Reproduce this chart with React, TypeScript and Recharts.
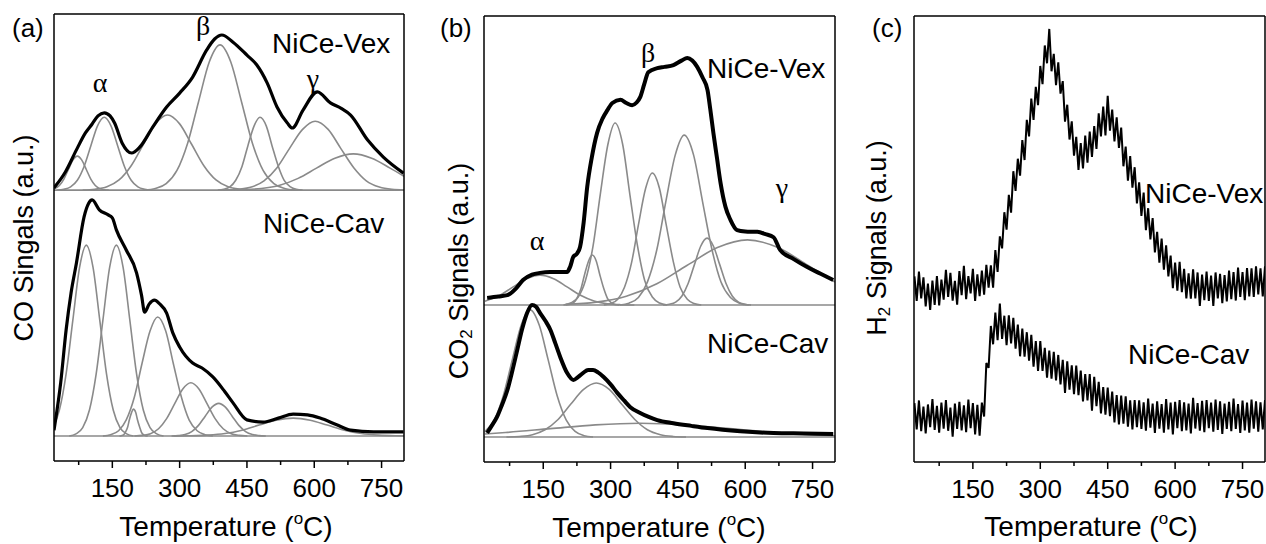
import React from 'react';
import { LineChart, Line, XAxis, YAxis, ReferenceLine } from 'recharts';

const FONT = '"Liberation Sans", Arial, Helvetica, sans-serif';
const GREEK = '"Liberation Serif", "DejaVu Serif", "Times New Roman", serif';
const GRAY = '#8a8a8a';

// x ticks shared by the three panels (minor ticks at the odd multiples of 75)
const tempTicks = [75, 150, 225, 300, 375, 450, 525, 600, 675, 750];

// vertical offsets of the stacked traces (a.u., plot height = 100)
const offA = { vex: 60.6, cav: 5.6 };
const offB = { vex: 35.2, cav: 5.6 };
const offC = { vex: 38, cav: 10 };

// ---- (a) CO signals: [temperature, signal above trace baseline] ----
const vexA1 = [[20, 0.3], [32, 1.03], [42, 2.47], [52, 4.61], [62, 6.7], [72, 7.6], [82, 6.7], [92, 4.61], [102, 2.47], [112, 1.03], [122, 0.33], [132, 0.08], [142, 0]];
const vexA2 = [[27, 0], [42, 0.18], [57, 0.72], [72, 2.2], [87, 5.3], [102, 9.89], [117, 14.38], [132, 16.3], [147, 14.38], [162, 9.89], [177, 5.3], [192, 2.2], [207, 0.72], [222, 0.18], [237, 0]];
const vexA3 = [[84, 0], [111, 0.18], [138, 0.74], [165, 2.27], [192, 5.46], [219, 10.2], [246, 14.82], [273, 16.8], [300, 14.82], [327, 10.2], [354, 5.46], [381, 2.27], [408, 0.74], [435, 0.18], [462, 0]];
const vexA4 = [[222, 0], [246, 0.36], [270, 1.43], [294, 4.39], [318, 10.56], [342, 19.73], [366, 28.67], [390, 32.5], [414, 28.67], [438, 19.73], [462, 10.56], [486, 4.39], [510, 1.43], [534, 0.36], [558, 0]];
const vexA5 = [[385, 0], [398, 0.18], [412, 0.72], [425, 2.2], [439, 5.3], [452, 9.89], [466, 14.38], [479, 16.3], [493, 14.38], [506, 9.89], [520, 5.3], [533, 2.2], [547, 0.72], [560, 0.18], [574, 0]];
const vexA6 = [[402, 0], [431, 0.17], [460, 0.68], [488, 2.08], [517, 5.01], [545, 9.35], [574, 13.58], [602, 15.4], [631, 13.58], [659, 9.35], [688, 5.01], [716, 2.08], [745, 0.68], [773, 0.17], [800, 0.03]];
const vexA7 = [[400, 0], [441, 0.09], [482, 0.36], [523, 1.09], [564, 2.63], [605, 4.92], [646, 7.14], [687, 8.1], [728, 7.14], [769, 4.92], [800, 3.1]];
const vexAEnv = [[20, 0.5], [45, 4.0], [70, 9.0], [90, 12.8], [105, 14.8], [118, 16.6], [132, 17.3], [145, 16.6], [155, 15.0], [172, 10.5], [193, 8.3], [211, 9.6], [240, 14.1], [271, 18.6], [300, 21.7], [329, 25.3], [360, 31.3], [378, 33.8], [394, 34.7], [419, 33.1], [450, 30.2], [472, 28.0], [495, 24.0], [517, 18.6], [540, 15.0], [551, 13.9], [575, 17.9], [607, 22.0], [636, 19.5], [660, 18.3], [681, 16.8], [719, 11.2], [754, 7.4], [799, 3.8]];

const cavA1 = [[20, 2.4], [32, 5.8], [47, 13.9], [62, 25.9], [77, 37.7], [92, 42.7], [107, 37.7], [122, 25.9], [137, 13.9], [152, 5.8], [167, 1.88], [182, 0.47], [197, 0]];
const cavA2 = [[54, 0], [69, 0.47], [84, 1.88], [99, 5.8], [114, 13.9], [129, 25.9], [144, 37.7], [159, 42.7], [174, 37.7], [189, 25.9], [204, 13.9], [219, 5.8], [234, 1.88], [249, 0.47], [264, 0]];
const cavA3 = [[166, 0], [170, 0.07], [175, 0.26], [179, 0.81], [184, 1.95], [188, 3.64], [193, 5.29], [197, 6.0], [202, 5.29], [206, 3.64], [211, 1.95], [215, 0.81], [220, 0.26], [224, 0.07], [229, 0]];
const cavA4 = [[129, 0], [146, 0.29], [164, 1.17], [181, 3.59], [199, 8.65], [216, 16.15], [234, 23.46], [251, 26.6], [269, 23.46], [286, 16.15], [304, 8.65], [321, 3.59], [339, 1.17], [356, 0.29], [374, 0]];
const cavA5 = [[199, 0], [217, 0.13], [235, 0.52], [253, 1.61], [271, 3.87], [289, 7.22], [307, 10.5], [325, 11.9], [343, 10.5], [361, 7.22], [379, 3.87], [397, 1.61], [415, 0.52], [433, 0.13], [451, 0]];
const cavA6 = [[282, 0], [297, 0.08], [312, 0.32], [327, 0.99], [342, 2.37], [357, 4.43], [372, 6.44], [387, 7.3], [402, 6.44], [417, 4.43], [432, 2.37], [447, 0.99], [462, 0.32], [477, 0.08], [492, 0]];
const cavA7 = [[287, 0], [325, 0.04], [363, 0.18], [401, 0.54], [439, 1.3], [477, 2.43], [515, 3.53], [553, 4.0], [591, 3.53], [629, 2.43], [667, 1.3], [705, 0.54], [743, 0.18], [781, 0.04], [800, 0.02]];
const cavAEnv = [[20, 1.3], [35, 12.0], [47, 23.7], [58, 32.0], [70, 38.7], [87, 49.0], [97, 52.0], [105, 52.8], [121, 50.6], [140, 49.5], [150, 48.8], [159, 46.1], [181, 41.6], [204, 36.5], [215, 31.5], [222, 27.7], [232, 29.5], [244, 30.4], [255, 29.6], [271, 27.5], [285, 23.0], [300, 19.9], [329, 16.3], [350, 15.2], [374, 13.2], [400, 10.0], [419, 7.4], [450, 3.6], [486, 3.1], [520, 4.0], [553, 4.9], [585, 4.7], [613, 4.0], [650, 2.5], [681, 1.3], [732, 0.9], [799, 0.9]];

// ---- (b) CO2 signals ----
const vexB1 = [[20, 0.85], [53, 2.18], [83, 4.07], [113, 5.91], [143, 6.7], [173, 5.91], [203, 4.07], [233, 2.18], [263, 0.9], [293, 0.29], [323, 0.07], [353, 0]];
const vexB2 = [[200, 0], [208, 0.12], [217, 0.49], [225, 1.51], [234, 3.64], [242, 6.8], [251, 9.88], [259, 11.2], [268, 9.88], [276, 6.8], [285, 3.64], [293, 1.51], [302, 0.49], [310, 0.12], [319, 0]];
const vexB3 = [[195, 0], [211, 0.45], [228, 1.8], [244, 5.51], [261, 13.26], [277, 24.77], [294, 35.99], [310, 40.8], [327, 35.99], [343, 24.77], [360, 13.26], [376, 5.51], [393, 1.8], [409, 0.45], [426, 0]];
const vexB4 = [[285, 0], [300, 0.33], [316, 1.3], [331, 4.0], [347, 9.62], [362, 17.97], [378, 26.11], [393, 29.6], [409, 26.11], [424, 17.97], [440, 9.62], [455, 4.0], [471, 1.3], [486, 0.33], [502, 0]];
const vexB5 = [[321, 0], [341, 0.42], [362, 1.68], [382, 5.14], [403, 12.38], [423, 23.13], [444, 33.6], [464, 38.1], [485, 33.6], [505, 23.13], [526, 12.38], [546, 5.14], [567, 1.68], [587, 0.42], [608, 0]];
const vexB6 = [[417, 0], [431, 0.17], [445, 0.66], [459, 2.03], [473, 4.88], [487, 9.11], [501, 13.23], [515, 15.0], [529, 13.23], [543, 9.11], [557, 4.88], [571, 2.03], [585, 0.66], [599, 0.17], [613, 0]];
const vexB7 = [[200, 0.16], [268, 0.64], [335, 1.97], [403, 4.75], [470, 8.86], [538, 12.88], [605, 14.6], [673, 12.88], [740, 8.86], [800, 5.15]];
const vexBEnv = [[25, 1.6], [50, 1.9], [70, 2.2], [90, 3.8], [105, 5.6], [125, 6.8], [143, 7.2], [165, 7.4], [181, 7.4], [203, 7.4], [210, 8.6], [217, 10.8], [225, 11.5], [232, 13.0], [240, 18.5], [248, 26.5], [258, 33.0], [270, 38.6], [282, 41.8], [293, 43.7], [304, 45.3], [322, 46.0], [335, 45.3], [348, 44.8], [358, 45.4], [366, 46.6], [375, 49.5], [384, 52.2], [404, 53.1], [420, 53.4], [440, 53.8], [458, 54.8], [471, 55.4], [482, 54.8], [493, 53.4], [505, 51.0], [516, 48.2], [522, 44.0], [529, 38.6], [537, 33.0], [545, 27.4], [556, 22.0], [567, 19.1], [582, 16.8], [600, 16.5], [627, 16.4], [645, 15.9], [663, 15.2], [678, 12.3], [708, 10.3], [738, 8.5], [768, 7.0], [796, 5.6]];

const cavB1 = [[20, 1.2], [41, 3.85], [61, 9.26], [81, 17.3], [101, 25.1], [121, 28.5], [141, 25.1], [161, 17.3], [181, 9.26], [201, 3.85], [221, 1.25], [241, 0.31], [261, 0]];
const cavB2 = [[68, 0], [97, 0.13], [126, 0.53], [154, 1.63], [183, 3.93], [211, 7.34], [240, 10.67], [268, 12.1], [297, 10.67], [325, 7.34], [354, 3.93], [382, 1.63], [411, 0.53], [439, 0.13], [468, 0]];
const cavB3 = [[20, 0.69], [66, 1.01], [166, 1.88], [266, 2.73], [366, 3.1], [466, 2.73], [566, 1.88], [666, 1.01], [766, 0.42], [800, 0.29]];
const cavBEnv = [[25, 0.9], [35, 2.5], [47, 4.5], [58, 7.2], [70, 10.5], [81, 14.8], [92, 19.5], [103, 24.2], [114, 27.8], [125, 29.6], [134, 29.2], [143, 27.8], [155, 26.0], [166, 24.0], [177, 21.0], [188, 17.9], [203, 14.4], [217, 12.8], [228, 13.5], [239, 14.4], [250, 15.0], [261, 15.0], [272, 14.5], [284, 13.5], [300, 11.8], [315, 9.9], [330, 8.2], [344, 6.7], [366, 5.4], [385, 4.5], [404, 3.8], [440, 3.1], [480, 2.5], [516, 2.0], [589, 1.3], [663, 0.9], [730, 0.8], [796, 0.7]];

// ---- (c) H2 signals, raw traces sampled every 5 °C from 20 °C ----
const vexH2 = [
  3.6, -1.9, 4.7, -1.3, 3.4, -3.1, 2.0, -3.9, 2.7, -2.8,
  3.7, -2.9, 2.9, -1.6, 5.1, -1.0, 4.4, -1.8, 2.6, -2.7,
  4.8, -0.6, 6.0, -1.5, 3.7, -0.2, 5.3, -1.9, 4.1, -0.8,
  4.9, -0.5, 6.2, 1.1, 6.1, 1.1, 9.5, 4.6, 12.6, 9.9,
  18.0, 14.1, 21.9, 17.9, 27.2, 22.8, 30.0, 26.2, 34.2, 29.7,
  38.7, 35.0, 43.5, 38.7, 46.1, 42.0, 50.8, 46.7, 55.4, 51.4,
  59.1, 49.6, 53.5, 46.5, 51.6, 44.6, 47.4, 38.3, 42.1, 34.3,
  38.4, 30.7, 34.9, 27.5, 33.5, 27.8, 35.2, 29.1, 36.1, 30.4,
  37.3, 32.2, 40.2, 35.0, 41.7, 35.2, 44.1, 36.3, 41.0, 33.9,
  39.3, 32.4, 37.0, 28.3, 32.7, 25.1, 30.6, 23.5, 28.1, 20.0,
  24.7, 17.2, 22.4, 14.0, 18.9, 11.9, 16.7, 9.0, 13.6, 6.7,
  12.1, 5.1, 10.6, 3.6, 8.3, 1.0, 6.7, 0.4, 6.9, 0.1,
  5.3, -1.3, 4.3, -1.4, 5.2, -1.3, 4.5, -3.0, 4.0, -1.7,
  4.7, -1.9, 3.8, -3.0, 4.5, -1.3, 4.2, -2.4, 3.9, -2.0,
  4.9, -1.5, 4.6, -1.8, 5.6, -1.0, 4.6, -1.7, 5.5, -0.9,
  5.4, -1.0, 5.9, -0.4, 5.4, -0.9, 5.9,
];
const cavH2 = [
  3.2, -2.7, 3.8, -3.1, 2.4, -3.6, 2.9, -2.2, 4.1, -2.8,
  2.6, -3.4, 3.3, -2.5, 3.9, -3.0, 2.2, -4.3, 3.1, -2.6,
  3.5, -2.9, 2.7, -3.3, 4.0, -2.4, 3.2, -3.8, 2.8, -4.1,
  3.3, 0.2, 12.2, 11.1, 20.5, 16.4, 23.5, 17.3, 25.5, 17.6,
  22.8, 16.2, 22.9, 16.6, 22.3, 15.4, 20.8, 13.7, 19.9, 13.6,
  19.1, 12.7, 18.5, 11.4, 17.1, 10.4, 17.1, 10.4, 15.6, 8.9,
  15.0, 8.7, 14.7, 8.3, 14.0, 7.4, 12.9, 5.5, 12.6, 6.2,
  11.7, 5.2, 11.6, 5.0, 10.5, 3.6, 9.7, 3.8, 9.7, 1.5,
  9.1, 2.5, 8.0, 0.9, 6.8, 0.6, 6.7, 0.3, 5.8, -1.1,
  5.0, -1.6, 4.9, -1.4, 4.7, -2.1, 3.8, -2.7, 3.9, -2.2,
  3.8, -2.6, 3.4, -3.0, 4.2, -2.3, 3.1, -3.5, 3.6, -2.5,
  3.0, -3.4, 4.1, -2.7, 3.3, -3.8, 3.5, -2.4, 3.9, -3.1,
  3.4, -2.9, 3.1, -3.6, 4.4, -2.5, 3.2, -3.0, 3.7, -3.3,
  3.9, -2.4, 3.3, -3.2, 4.0, -2.8, 3.6, -3.7, 3.1, -2.6,
  3.5, -3.1, 4.2, -2.6, 3.0, -3.5, 3.8, -2.9, 3.3, -3.4,
  4.0, -2.5, 3.6, -3.2, 3.4, -2.7, 3.9,
];

const shift = (pts: number[][], off: number) => pts.map(([t, v]) => ({ t, v: v + off }));
const rawTrace = (vals: number[], off: number) => vals.map((v, i) => ({ t: 20 + i * 5, v: v + off }));

type Trace = { data: { t: number; v: number }[]; kind: 'fit' | 'sum' | 'noisy' | 'raw' };

const fit = (pts: number[][], off: number): Trace => ({ data: shift(pts, off), kind: 'fit' });

const tracesA: Trace[] = [
  ...[vexA1, vexA2, vexA3, vexA4, vexA5, vexA6, vexA7].map((p) => fit(p, offA.vex)),
  ...[cavA1, cavA2, cavA3, cavA4, cavA5, cavA6, cavA7].map((p) => fit(p, offA.cav)),
  { data: shift(vexAEnv, offA.vex), kind: 'sum' },
  { data: shift(cavAEnv, offA.cav), kind: 'sum' },
];
const tracesB: Trace[] = [
  ...[vexB1, vexB2, vexB3, vexB4, vexB5, vexB6, vexB7].map((p) => fit(p, offB.vex)),
  ...[cavB1, cavB2, cavB3].map((p) => fit(p, offB.cav)),
  { data: shift(vexBEnv, offB.vex), kind: 'noisy' },
  { data: shift(cavBEnv, offB.cav), kind: 'noisy' },
];
const tracesC: Trace[] = [
  { data: rawTrace(vexH2, offC.vex), kind: 'raw' },
  { data: rawTrace(cavH2, offC.cav), kind: 'raw' },
];

const TempTick = (props: any) => {
  const { x, y, payload } = props;
  const major = payload.value % 150 === 0;
  return (
    <g>
      <line x1={x} y1={y} x2={x} y2={y + (major ? 7 : 4)} stroke="#000" strokeWidth={1.5} />
      {major && (
        <text x={x} y={y + 36} textAnchor="middle" fontSize={26} fontFamily={FONT} fill="#000">
          {payload.value}
        </text>
      )}
    </g>
  );
};

const frame = { stroke: '#000', strokeWidth: 1.5 };

const lineStyle = (kind: Trace['kind']) => {
  if (kind === 'fit') return { stroke: GRAY, strokeWidth: 1.6, type: 'monotone' as const };
  if (kind === 'sum') return { stroke: '#000', strokeWidth: 3.2, type: 'monotone' as const };
  if (kind === 'noisy') return { stroke: '#000', strokeWidth: 4, type: 'monotone' as const };
  return { stroke: '#000', strokeWidth: 2, type: 'linear' as const };
};

interface PanelProps {
  left: number;
  top: number;
  w: number;
  h: number;
  xMin: number;
  traces: Trace[];
  baselines: number[];
}

// plot area starts at (left, top); axes of width/height 1 draw the frame
const Panel: React.FC<PanelProps> = ({ left, top, w, h, xMin, traces, baselines }) => (
  <div style={{ position: 'absolute', left: left - 4, top: top - 4 }}>
    <LineChart width={w + 8} height={h + 4 + 82} margin={{ top: 3, right: 3, bottom: 0, left: 3 }}>
      <XAxis
        dataKey="t"
        type="number"
        domain={[xMin, 800]}
        allowDataOverflow
        ticks={tempTicks}
        interval={0}
        tick={<TempTick />}
        tickLine={false}
        tickSize={0}
        tickMargin={0}
        height={82}
        axisLine={frame}
      />
      <XAxis xAxisId="top" orientation="top" type="number" domain={[xMin, 800]} tick={false} tickLine={false} height={1} axisLine={frame} />
      <YAxis type="number" domain={[0, 100]} allowDataOverflow tick={false} tickLine={false} width={1} axisLine={frame} />
      <YAxis yAxisId="r" orientation="right" type="number" domain={[0, 100]} tick={false} tickLine={false} width={1} axisLine={frame} />
      {baselines.map((b) => (
        <ReferenceLine key={b} y={b} stroke={GRAY} strokeWidth={1.6} />
      ))}
      {traces.map((tr, i) => {
        const s = lineStyle(tr.kind);
        return (
          <Line
            key={i}
            data={tr.data}
            dataKey="v"
            type={s.type}
            stroke={s.stroke}
            strokeWidth={s.strokeWidth}
            dot={false}
            activeDot={false}
            isAnimationActive={false}
          />
        );
      })}
    </LineChart>
  </div>
);

const tempLabel = (cx: number, y: number) => (
  <text x={cx} y={y} textAnchor="middle" fontSize={28}>
    Temperature (<tspan fontSize={17} dy={-12}>o</tspan>
    <tspan dy={12}>C)</tspan>
  </text>
);

export default function App() {
  return (
    <div style={{ position: 'absolute', left: 0, top: 0, width: 1266, height: 544, background: '#fff', overflow: 'hidden' }}>
      <Panel left={54} top={14} w={350} h={447} xMin={20} traces={tracesA} baselines={[offA.vex, offA.cav]} />
      <Panel left={484} top={16} w={351} h={446} xMin={18} traces={tracesB} baselines={[offB.vex, offB.cav]} />
      <Panel left={914} top={16} w={351} h={446} xMin={19} traces={tracesC} baselines={[]} />
      <svg width={1266} height={544} style={{ position: 'absolute', left: 0, top: 0, pointerEvents: 'none' }} fontFamily={FONT} fill="#000">
        <text x={12} y={37} fontSize={26}>(a)</text>
        <text x={440} y={37} fontSize={26}>(b)</text>
        <text x={872} y={37} fontSize={26}>(c)</text>

        <text transform="translate(24,238) rotate(-90)" textAnchor="middle" dominantBaseline="central" fontSize={27}>
          CO Singals (a.u.)
        </text>
        <text transform="translate(459,271) rotate(-90)" textAnchor="middle" dominantBaseline="central" fontSize={27}>
          CO<tspan fontSize={17} dy={7}>2</tspan>
          <tspan dy={-7}> Signals (a.u.)</tspan>
        </text>
        <text transform="translate(877,238) rotate(-90)" textAnchor="middle" dominantBaseline="central" fontSize={27}>
          H<tspan fontSize={17} dy={7}>2</tspan>
          <tspan dy={-7}> Signals (a.u.)</tspan>
        </text>

        {tempLabel(226, 536)}
        {tempLabel(659, 537)}
        {tempLabel(1091, 536)}

        <text x={272} y={53} fontSize={28}>NiCe-Vex</text>
        <text x={263} y={233} fontSize={28}>NiCe-Cav</text>
        <text x={707} y={78} fontSize={28}>NiCe-Vex</text>
        <text x={707} y={353} fontSize={28}>NiCe-Cav</text>
        <text x={1145} y={203} fontSize={28}>NiCe-Vex</text>
        <text x={1128} y={364} fontSize={28}>NiCe-Cav</text>

        <g fontFamily={GREEK} fontSize={28} textAnchor="middle">
          <text x={100} y={92}>α</text>
          <text x={203} y={35}>β</text>
          <text x={313} y={88}>γ</text>
          <text x={537} y={250}>α</text>
          <text x={648} y={62}>β</text>
          <text x={782} y={197}>γ</text>
        </g>
      </svg>
    </div>
  );
}
